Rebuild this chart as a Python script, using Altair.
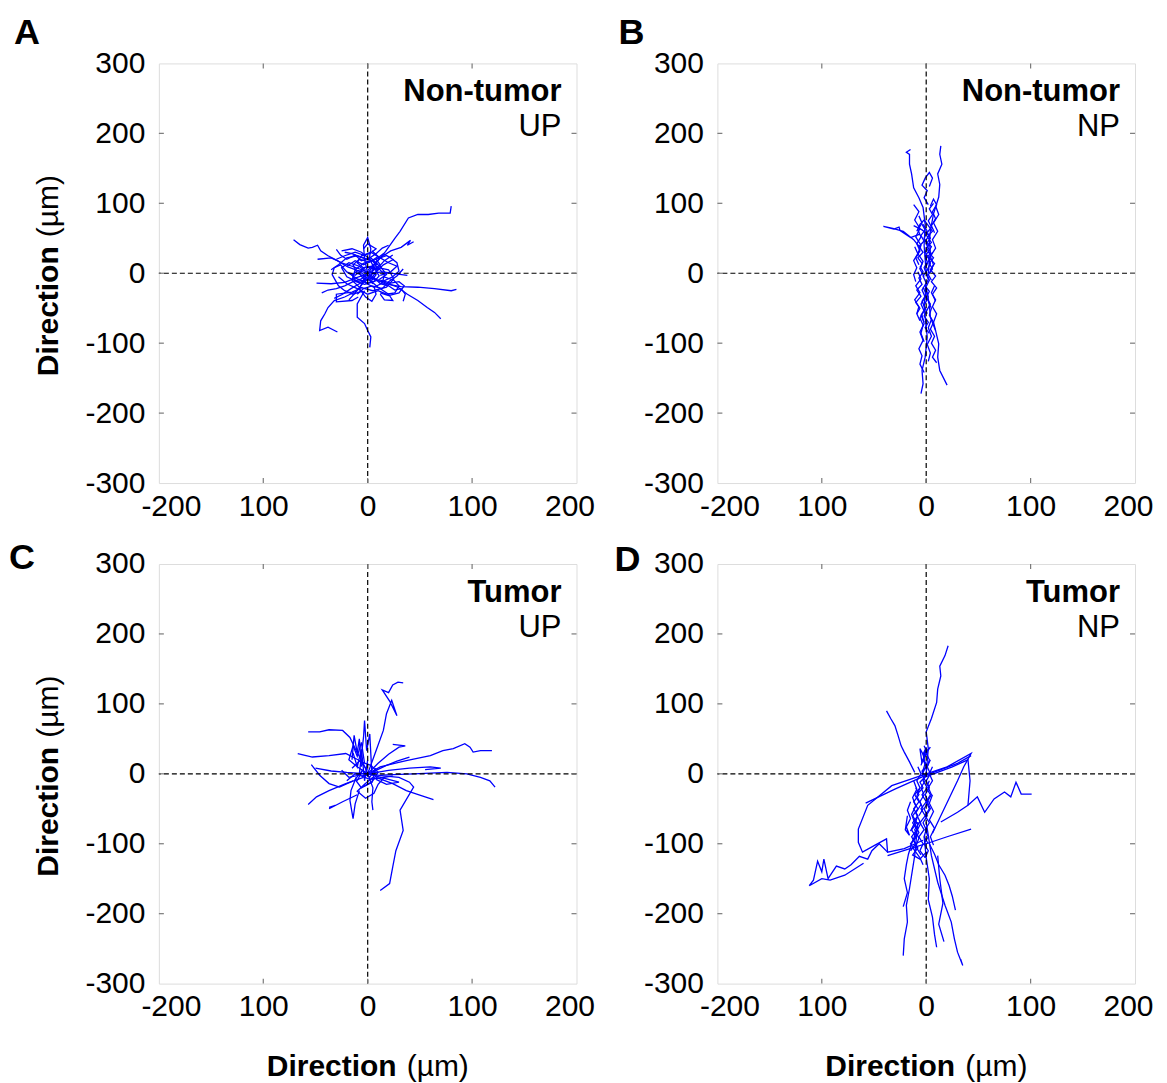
import altair as alt
import pandas as pd

FONT = "Liberation Sans"
BLUE = "#0000ff"
FRAME = "#7a7a7a"
W, H = 418, 420

X_TICKS = [-200, -100, 0, 100, 200]
X_TICK_LABELS = ["-200", "100", "0", "100", "200"]
Y_TICKS = [-300, -200, -100, 0, 100, 200, 300]
X_INNER = [-100, 0, 100]
Y_INNER = [-200, -100, 0, 100, 200]

# ---------------- Panel A : Non-tumor / UP ----------------
A_TRACKS = [
    [(0, 0), (8, 15), (17, 31), (26, 50), (31, 60), (39, 79), (48, 84), (58, 84), (68, 86), (79, 86), (80, 96)],
    [(-71, 48), (-65, 41), (-57, 36), (-53, 37), (-48, 40), (-45, 32), (-38, 25), (-29, 18), (-19, 9), (-10, 4), (0, 0)],
    [(0, -6), (16, -13), (29, -20), (38, -30), (48, -39), (57, -49), (64, -56), (70, -65)],
    [(0, -3), (16, -15), (32, -19), (48, -20), (64, -22), (80, -25), (85, -23)],
    [(-10, -25), (-22, -34), (-32, -39), (-38, -49), (-41, -58), (-45, -68), (-46, -82), (-38, -77), (-29, -84)],
    [(-3, -25), (-10, -44), (-10, -63), (-3, -72), (0, -82), (3, -91), (2, -106)],
    [(-49, -14), (-35, -15), (-22, -13), (-10, -6), (0, -1)],
    [(0, 4), (13, 23), (22, 32), (32, 37), (41, 47), (38, 40), (44, 45)],
    [(0, 0), (-3, 20), (-4, 40), (0, 51), (3, 35), (1, 15)],
    [(0, 0), (15, 2), (27, -1), (38, -3)],
    [(2, -10), (10, -20), (20, -30), (24, -39), (16, -38), (12, -30)],
    [(-5, -20), (-15, -27), (-30, -30), (-30, -41), (-15, -39), (-9, -34)],
    [(-48, 20), (-35, 22), (-25, 15), (-15, 10), (0, 2)],
    [(0, 0), (-8, 10), (-18, 15), (-25, 8), (-20, -5), (-10, -12), (3, -8), (10, 5), (5, 18), (-5, 22), (-15, 28), (-22, 30)],
    [(0, 0), (10, 8), (20, 5), (25, -8), (18, -20), (5, -25), (-8, -20), (-15, -10), (-12, 5), (-4, 14), (8, 20), (18, 25)],
    [(-30, 20), (-22, 25), (-12, 30), (-4, 26), (3, 30), (12, 22), (20, 15), (28, 10), (22, 2), (12, -3)],
    [(-28, -5), (-20, -15), (-10, -22), (0, -30), (10, -25), (18, -30), (26, -28), (30, -18), (25, -10), (15, -5)],
    [(-5, 5), (-12, -3), (-20, 2), (-26, 12), (-32, 8), (-34, -2), (-28, -18), (-22, -25), (-14, -30), (-6, -26)],
    [(5, 5), (12, 12), (8, 20), (15, 28), (22, 22), (28, 15), (30, 3), (24, -5), (14, -12)],
    [(-18, -38), (-12, -28), (-5, -15), (3, -5), (6, 8), (2, 20), (-6, 30), (-15, 35), (-25, 32)],
    [(0, 0), (-6, -8), (-14, -12), (-22, -18), (-30, -22), (-38, -24), (-44, -28)],
    [(0, 0), (6, -6), (12, -15), (20, -18), (26, -24), (32, -22), (36, -30), (34, -40)],
    [(2, 2), (8, -2), (4, -10), (-4, -8), (-8, 0), (-4, 8), (4, 10), (10, 4)],
    [(-2, 5), (-10, 15), (-6, 25), (2, 28), (8, 35), (0, 42), (-4, 35)],
    [(0, 0), (-4, -10), (-8, -22), (-2, -34), (4, -40), (8, -30), (6, -18)],
    [(12, -10), (22, -14), (30, -12), (35, -18), (30, -28), (20, -32), (12, -28)],
    [(-20, 10), (-12, 18), (-4, 12), (4, 18), (12, 10), (18, -2), (10, -10), (0, -14), (-10, -8), (-18, 0)],
    [(-35, 5), (-28, 12), (-20, 22), (-10, 25), (0, 20), (8, 28), (14, 36), (20, 40)],
    [(25, 20), (15, 12), (8, 2), (0, -5), (-8, -15), (-16, -22), (-24, -30), (-32, -36)],
    [(-10, -30), (-4, -22), (4, -18), (14, -22), (20, -12), (28, -4), (34, 6)],
    [(5, -15), (-2, -5), (-10, 0), (-14, 12), (-8, 20), (2, 16), (10, 24), (4, 32)],
    [(-3, -3), (-9, 4), (-15, -2), (-11, -12), (-3, -16), (6, -12), (11, -4), (7, 6), (-1, 9)],
    [(4, 3), (9, 14), (3, 22), (-6, 18), (-12, 26), (-20, 20), (-26, 26), (-30, 34)],
    [(-4, -4), (-2, -14), (6, -20), (14, -14), (16, -2), (10, 8), (16, 18), (24, 26)],
]

# ---------------- Panel B : Non-tumor / NP ----------------
B_TRACKS = [
    [(2, 0), (4, 30), (3, 45), (4, 61), (7, 85), (12, 109), (13, 127), (11, 142), (15, 156), (13, 170), (14, 182)],
    [(0, 0), (-2, 40), (-1, 70), (-3, 94), (-7, 108), (-12, 122), (-14, 142), (-16, 156), (-16, 170), (-19, 173), (-15, 177)],
    [(-6, 56), (-15, 51), (-25, 61), (-26, 66), (-31, 63), (-41, 67), (-32, 64), (-22, 60), (-12, 48), (-5, 35)],
    [(0, -20), (3, -45), (4, -63), (9, -82), (12, -101), (11, -120), (13, -139), (20, -160)],
    [(0, -20), (-2, -45), (-1, -63), (1, -91), (-1, -120), (-4, -139), (-3, -158), (-5, -172)],
    [(0, 0), (-2, 8), (1, 16), (-1, 25), (3, 33), (0, 42), (4, 50), (1, 58), (5, 66), (2, 75), (6, 84), (3, 92), (7, 100)],
    [(0, 0), (2, -9), (-1, -18), (3, -26), (0, -35), (4, -44), (1, -52), (-2, -61), (2, -70), (-1, -78), (3, -86)],
    [(-6, 10), (-3, 2), (-7, -7), (-4, -16), (-9, -24), (-5, -33), (-10, -42), (-6, -50), (-9, -58)],
    [(6, 30), (3, 22), (8, 14), (4, 5), (9, -4), (5, -12), (10, -21), (6, -30), (9, -40)],
    [(-4, 70), (-1, 62), (-5, 54), (-2, 46), (-7, 38), (-3, 30), (-8, 22), (-4, 14), (-6, 6)],
    [(-2, -5), (-6, 6), (-3, 17), (-8, 28), (-5, 40), (-10, 52), (-6, 64), (-11, 76), (-7, 88), (-12, 98)],
    [(3, 0), (7, 12), (4, 24), (9, 36), (6, 48), (11, 60), (7, 72), (12, 84), (9, 96)],
    [(1, 5), (-3, -4), (0, -14), (-4, -24), (-1, -34), (-5, -44), (-2, -54), (-6, -64), (-3, -74), (-5, -86), (-2, -98)],
    [(-1, 20), (4, 28), (0, 36), (5, 44), (1, 52), (6, 60), (2, 68), (-2, 76), (-6, 70), (-9, 60)],
    [(5, -10), (2, -2), (6, 6), (3, 14), (7, 22), (2, 30), (5, 38), (-1, 46), (3, 54), (-4, 62), (-12, 68)],
    [(2, -40), (5, -50), (3, -60), (7, -70), (4, -80), (8, -90), (5, -100), (9, -110), (6, -120), (10, -128)],
    [(-4, -60), (-2, -72), (-6, -84), (-3, -96), (-7, -108), (-4, -118), (-6, -130), (-2, -142)],
    [(2, 98), (-2, 108), (1, 118), (-4, 126), (-1, 136), (3, 144), (6, 136), (3, 124)],
    [(-8, 2), (-5, -8), (-10, -18), (-6, -28), (-11, -38), (-7, -48), (-9, -58), (-6, -68)],
    [(8, -18), (5, -28), (9, -38), (6, -48), (10, -58), (7, -70), (9, -82)],
    [(-7, 82), (-4, 72), (-8, 62), (-5, 52), (-9, 42), (-6, 32), (-10, 22), (-7, 12)],
    [(8, 58), (5, 68), (9, 78), (6, 88), (10, 98), (7, 106), (4, 96)],
    [(1, -58), (-2, -46), (2, -34), (-1, -22), (3, -10), (0, 2), (4, 14), (1, 26)],
    [(-11, 38), (-8, 28), (-12, 18), (-9, 8), (-12, -2), (-10, -12)],
    [(5, -66), (2, -78), (5, -90), (1, -102), (4, -114), (2, -126)],
    [(0, 10), (3, 20), (-1, 30), (2, 40), (-2, 50), (1, 60), (-3, 70)],
    [(-3, -20), (0, -30), (-4, -40), (-1, -50), (-5, -60), (-2, -70)],
]

# ---------------- Panel C : Tumor / UP ----------------
C_TRACKS = [
    [(0, 0), (15, -3), (30, -5), (40, -12), (44, -19), (31, -52), (34, -81), (27, -110), (24, -133), (21, -157), (12, -167)],
    [(0, 0), (8, 33), (15, 62), (18, 86), (23, 105), (28, 83), (21, 104), (14, 120), (20, 116), (24, 127), (29, 131), (34, 130)],
    [(0, 0), (12, 10), (37, 19), (60, 26), (72, 33), (82, 36), (93, 43), (98, 38), (101, 31), (108, 33), (119, 33)],
    [(12, -2), (44, 0), (76, 2), (95, 0), (108, -5), (117, -10), (122, -19)],
    [(8, -5), (24, -14), (37, -24), (47, -29), (63, -37)],
    [(-57, 60), (-46, 60), (-37, 63), (-24, 62), (-17, 52), (-11, 33), (-4, 14), (0, 0)],
    [(-67, 29), (-53, 24), (-37, 26), (-21, 29), (-8, 19), (0, 5)],
    [(-4, -5), (-21, -14), (-37, -24), (-49, -33), (-57, -44)],
    [(-54, 13), (-46, -2), (-37, -14), (-27, -19), (-14, -10)],
    [(-37, -48), (-31, -45), (-37, -50), (-24, -40), (-10, -30)],
    [(-11, -5), (-16, -24), (-17, -38), (-14, -64), (-12, -43), (-8, -24)],
    [(-8, 0), (-4, 52), (-3, 76), (-1, 33), (2, 57), (4, 0)],
    [(-15, 20), (-13, 55), (-10, 30), (-8, 50), (-6, 10)],
    [(0, 0), (5, -20), (4, -40), (5, -52)],
    [(0, 0), (10, 15), (20, 28), (30, 38), (36, 40), (24, 42)],
    [(0, 0), (20, 5), (40, 8), (60, 10), (70, 8), (55, 6)],
    [(-5, 5), (-12, -8), (-6, -20), (4, -12), (10, 2), (3, 12), (-8, 18), (-15, 8)],
    [(0, 0), (-10, 10), (-18, 20), (-14, 40), (-10, 25), (-6, 45), (-3, 15)],
    [(5, -5), (-3, -15), (-10, -25), (-2, -35), (6, -28), (10, -15), (16, -5)],
    [(0, 0), (20, -8), (30, -12), (18, -15), (8, -8)],
    [(-20, -10), (-12, 0), (-2, -3), (8, 5), (18, 12), (28, 18), (40, 24)],
    [(-25, 5), (-18, -5), (-8, -2), (2, -8), (12, -6), (24, -3)],
    [(-10, -10), (-5, 5), (2, -5), (8, 8), (4, -12), (-4, -18)],
    [(-14, 30), (-10, 10), (-6, 35), (-3, -10), (0, 20)],
    [(0, 0), (-20, 2), (-35, 4), (-50, 8)],
]

# ---------------- Panel D : Tumor / NP ----------------
D_TRACKS = [
    [(0, 0), (2, 36), (0, 60), (5, 79), (10, 102), (11, 121), (14, 140), (13, 154), (18, 169), (21, 183)],
    [(-11, 2), (-16, 17), (-21, 31), (-24, 40), (-27, 55), (-30, 69), (-34, 79), (-38, 90)],
    [(0, 0), (-33, -17), (-56, -45), (-65, -79), (-65, -98), (-61, -112), (-49, -102), (-38, -93), (-37, -112), (-21, -107), (-3, -95)],
    [(-37, -112), (-45, -100), (-52, -110), (-56, -122), (-64, -118), (-72, -130), (-78, -136), (-86, -132), (-94, -150),
     (-98, -122), (-100, -140), (-104, -125), (-108, -152), (-112, -160), (-100, -150), (-92, -152), (-78, -145), (-60, -128)],
    [(14, -69), (30, -55), (40, -45), (49, -33), (56, -55), (65, -36), (75, -26), (81, -33), (86, -12), (91, -29), (101, -29)],
    [(0, 0), (20, 10), (43, 29), (36, 10), (30, -10), (22, -35), (14, -60), (6, -85)],
    [(-2, -5), (25, 10), (40, 20), (42, -10), (40, -45)],
    [(0, -69), (5, -117), (11, -155), (18, -188), (24, -212), (27, -236), (30, -255), (35, -274), (33, -265)],
    [(-8, -69), (-11, -117), (-16, -164), (-19, -188), (-18, -212), (-21, -236), (-22, -260)],
    [(-2, -90), (0, -120), (3, -150), (2, -180), (6, -205), (8, -230), (10, -248)],
    [(11, -117), (13, -150), (16, -185), (12, -215), (17, -240)],
    [(-58, -42), (-30, -22), (0, -2), (30, 15), (43, 26)],
    [(-37, -117), (0, -100), (20, -90), (43, -79)],
    [(0, 0), (-3, -10), (1, -20), (-4, -30), (0, -40), (-5, -50), (-1, -60), (-6, -70), (-2, -80), (-7, -90), (-3, -100), (-6, -110), (-1, -120)],
    [(-8, 10), (-5, 0), (-9, -10), (-6, -20), (-11, -30), (-7, -40), (-12, -50), (-8, -60), (-13, -70), (-9, -80), (-14, -90), (-10, -100), (-15, -110)],
    [(4, 20), (1, 10), (4, 0), (0, -10), (3, -20), (-1, -30), (2, -40), (-2, -50), (1, -60), (-3, -70), (0, -80), (-2, -90), (2, -100)],
    [(-2, 40), (1, 30), (-3, 20), (0, 10), (-4, 0), (-1, -10), (-5, -20), (-2, -30), (-6, -40), (-3, -50), (-7, -60)],
    [(-10, -20), (-7, -30), (-12, -40), (-8, -50), (-13, -60), (-9, -70), (-14, -80), (-10, -90), (-15, -100), (-11, -110), (-6, -120), (-3, -130)],
    [(3, -10), (0, -20), (4, -30), (0, -40), (3, -50), (-1, -60), (3, -70), (-1, -80), (2, -90), (-2, -100), (2, -110), (-1, -120)],
    [(0, 30), (-3, 20), (1, 12), (-4, 4), (-1, -4), (-6, -12), (-3, -20), (-8, -28)],
    [(-8, -60), (-11, -72), (-7, -84), (-12, -96), (-8, -106), (-13, -116), (-6, -122), (0, -112)],
    [(-15, -40), (-18, -52), (-15, -64), (-19, -76), (-16, -88), (-20, -80), (-18, -60)],
    [(6, -30), (3, -42), (7, -54), (3, -66), (8, -78), (4, -90), (7, -102)],
    [(0, 5), (3, 20), (0, 30), (4, 38), (-3, 28), (-6, 36), (-4, 15)],
    [(-5, -70), (-10, -85), (-14, -100), (-17, -115), (-19, -130), (-21, -150), (-18, -170), (-22, -190)],
    [(3, -100), (8, -115), (12, -130), (18, -145), (22, -160), (25, -175), (28, -195)],
    [(-6, -20), (-9, -32), (-5, -44), (-10, -56), (-6, -68), (-11, -80), (-7, -92), (-10, -104), (-5, -116)],
    [(6, 10), (3, 0), (6, -10), (2, -20), (5, -30), (1, -40), (4, -50), (0, -60)],
    [(-12, -10), (-9, -22), (-13, -34), (-10, -46), (-14, -58), (-11, -70), (-15, -82)],
    [(-4, 0), (-1, 15), (-3, 28), (0, 38), (-2, 25), (-5, 12)],
]

PANELS = [
    # letter, tracks, line1, line2, letter pos (rel), y-title, x-title
    ("A", A_TRACKS, "Non-tumor", "UP", (-145, -19), True, False),
    ("B", B_TRACKS, "Non-tumor", "NP", (-99, -19), False, False),
    ("C", C_TRACKS, "Tumor", "UP", (-150, 5), True, True),
    ("D", D_TRACKS, "Tumor", "NP", (-103, 7), False, True),
]

label_expr = "[" + ",".join("'%s'" % s for s in X_TICK_LABELS) + "][indexof([" + \
    ",".join(str(v) for v in X_TICKS) + "], datum.value)]"

xscale = alt.Scale(domain=[-200, 200], nice=False, zero=False)
yscale = alt.Scale(domain=[-300, 300], nice=False, zero=False)

AX_COMMON = dict(title=None, ticks=False, domain=False, grid=False, labelFontSize=30,
                 labelFont=FONT, labelColor="black", labelOverlap=False)
xaxis = alt.Axis(values=X_TICKS, labelExpr=label_expr, labelPadding=8, labelFlush=True,
                 labelFlushOffset=18, orient="bottom", **AX_COMMON)
yaxis = alt.Axis(values=Y_TICKS, labelExpr="'' + datum.value", labelPadding=14, labelFlush=False,
                 orient="left", **AX_COMMON)


def one(text):
    return pd.DataFrame({"t": [text]})


def make_panel(letter, tracks, line1, line2, lpos, ytitle, xtitle):
    rows = []
    for ti, tr in enumerate(tracks):
        for si, (x, y) in enumerate(tr):
            rows.append({"track": ti, "step": si, "x": x, "y": y})
    df = pd.DataFrame(rows)

    lines = alt.Chart(df).mark_line(color=BLUE, strokeWidth=1.3, clip=True).encode(
        x=alt.X("x:Q", scale=xscale, axis=xaxis),
        y=alt.Y("y:Q", scale=yscale, axis=yaxis),
        detail="track:N",
        order="step:Q",
    )
    zero = pd.DataFrame({"v": [0]})
    vline = alt.Chart(zero).mark_rule(color="black", strokeDash=[5, 3], strokeWidth=1.2).encode(
        x=alt.X("v:Q", scale=xscale, axis=xaxis))
    hline = alt.Chart(zero).mark_rule(color="black", strokeDash=[5, 3], strokeWidth=1.2).encode(
        y=alt.Y("v:Q", scale=yscale, axis=yaxis))

    xt = pd.DataFrame({"v": X_INNER})
    yt = pd.DataFrame({"v": Y_INNER})
    tk = dict(color=FRAME, strokeWidth=1.2)
    t_bottom = alt.Chart(xt).mark_rule(**tk).encode(
        x=alt.X("v:Q", scale=xscale, axis=xaxis), y=alt.value(H), y2=alt.value(H - 5))
    t_top = alt.Chart(xt).mark_rule(**tk).encode(
        x=alt.X("v:Q", scale=xscale, axis=xaxis), y=alt.value(0), y2=alt.value(5))
    t_left = alt.Chart(yt).mark_rule(**tk).encode(
        y=alt.Y("v:Q", scale=yscale, axis=yaxis), x=alt.value(0), x2=alt.value(5))
    t_right = alt.Chart(yt).mark_rule(**tk).encode(
        y=alt.Y("v:Q", scale=yscale, axis=yaxis), x=alt.value(W), x2=alt.value(W - 5))

    ann1 = alt.Chart(one(line1)).mark_text(align="right", baseline="alphabetic", fontSize=31,
                                           fontWeight="bold", font=FONT, color="black").encode(
        x=alt.value(W - 15), y=alt.value(38), text="t:N")
    ann2 = alt.Chart(one(line2)).mark_text(align="right", baseline="alphabetic", fontSize=31,
                                           font=FONT, color="black").encode(
        x=alt.value(W - 15), y=alt.value(73), text="t:N")
    let = alt.Chart(one(letter)).mark_text(align="left", baseline="alphabetic", fontSize=36,
                                           fontWeight="bold", font=FONT, color="black").encode(
        x=alt.value(lpos[0]), y=alt.value(lpos[1]), text="t:N")

    layers = [lines, vline, hline, t_bottom, t_top, t_left, t_right, ann1, ann2, let]

    if ytitle:
        yt1 = alt.Chart(one("Direction")).mark_text(align="left", baseline="middle", angle=270,
                                                    fontSize=30, fontWeight="bold", font=FONT,
                                                    color="black").encode(
            x=alt.value(-110), y=alt.value(313), text="t:N")
        yt2 = alt.Chart(one("(µm)")).mark_text(align="left", baseline="middle", angle=270,
                                               fontSize=30, font=FONT, color="black").encode(
            x=alt.value(-110), y=alt.value(174), text="t:N")
        layers += [yt1, yt2]
    if xtitle:
        xt1 = alt.Chart(one("Direction")).mark_text(align="left", baseline="alphabetic",
                                                    fontSize=30, fontWeight="bold", font=FONT,
                                                    color="black").encode(
            x=alt.value(108), y=alt.value(H + 92), text="t:N")
        xt2 = alt.Chart(one("(µm)")).mark_text(align="left", baseline="alphabetic",
                                               fontSize=30, font=FONT, color="black").encode(
            x=alt.value(248), y=alt.value(H + 92), text="t:N")
        layers += [xt1, xt2]

    return alt.layer(*layers).properties(width=W, height=H)


panels = [make_panel(*p) for p in PANELS]

chart = alt.concat(*panels, columns=2, spacing={"row": 81, "column": 141}, bounds="flush").properties(
    padding={"left": 0, "top": 6, "right": 5, "bottom": 5}
).configure_view(stroke=FRAME, strokeWidth=1.3).configure(background="white")

chart.save("out.html", embed_options={"renderer": "svg", "actions": False})
